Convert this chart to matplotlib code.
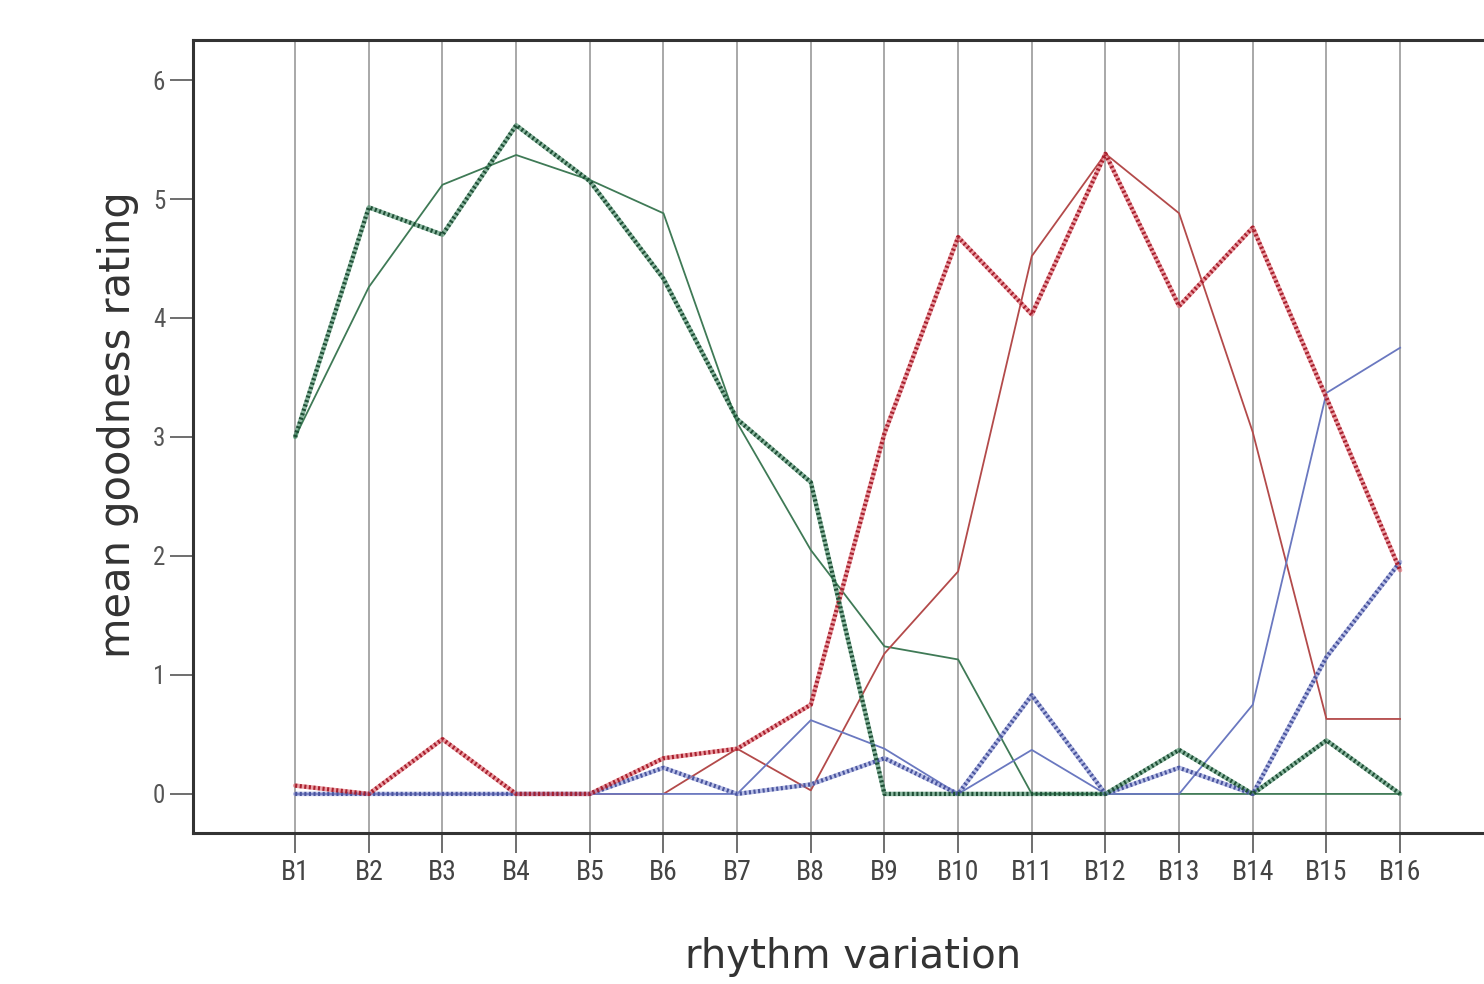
import matplotlib
matplotlib.use("Agg")

import matplotlib.pyplot as plt

VARIATIONS = [f"B{i}" for i in range(1, 17)]
Y_TICKS = [0, 1, 2, 3, 4, 5, 6]

# thick (beaded) series
GREEN_THICK = [3.0, 4.93, 4.70, 5.62, 5.15, 4.33, 3.15, 2.62, 0, 0, 0, 0, 0.37, 0, 0.45, 0]
RED_THICK = [0.07, 0, 0.46, 0, 0, 0.30, 0.38, 0.75, 3.03, 4.68, 4.03, 5.38, 4.10, 4.76, 3.33, 1.88]
BLUE_THICK = [0, 0, 0, 0, 0, 0.22, 0, 0.08, 0.30, 0, 0.83, 0, 0.22, 0, 1.15, 1.95]

# thin series
GREEN_THIN = [3.0, 4.26, 5.12, 5.37, 5.16, 4.88, 3.12, 2.05, 1.24, 1.13, 0, 0, 0, 0, 0, 0]
RED_THIN = [0, 0, 0, 0, 0, 0, 0.38, 0.03, 1.18, 1.87, 4.52, 5.38, 4.88, 3.04, 0.63, 0.63]
BLUE_THIN = [0, 0, 0, 0, 0, 0, 0, 0.62, 0.38, 0, 0.37, 0, 0, 0.75, 3.37, 3.75]

TICK_FONT = ["Roboto Condensed", "Liberation Sans Narrow", "Roboto", "DejaVu Sans"]


def beaded_line(ax, x, y, base, dots):
	ax.plot(x, y, color=base, linewidth=3.2, alpha=0.6, solid_capstyle="round", zorder=4)
	ax.plot(x, y, color=dots, linewidth=3.0, linestyle=(0, (0.5, 0.6)), zorder=5)


def main():
	fig = plt.figure(figsize=(14.84, 9.84), dpi=100)
	ax = fig.add_axes([0.130, 0.1535, 0.877, 0.8058])

	x = list(range(1, len(VARIATIONS) + 1))

	ax.plot(x, GREEN_THIN, color="#3f7a56", linewidth=1.3, zorder=3)
	ax.plot(x, RED_THIN, color="#b34a4a", linewidth=1.3, zorder=3)
	ax.plot(x, BLUE_THIN, color="#6a78c0", linewidth=1.3, zorder=3)

	beaded_line(ax, x, BLUE_THICK, "#8a94d6", "#4a559e")
	beaded_line(ax, x, RED_THICK, "#e0606a", "#a8202e")
	beaded_line(ax, x, GREEN_THICK, "#3f8a62", "#1f4f36")

	ax.set_xlim(1 - 1.388, 17.28)
	ax.set_ylim(-0.328, 6.336)

	ax.set_xticks(x)
	ax.set_xticklabels(VARIATIONS, family=TICK_FONT, fontsize=20, color="#444444")
	ax.set_yticks(Y_TICKS)
	ax.set_yticklabels([str(v) for v in Y_TICKS], family=TICK_FONT, fontsize=18, color="#555555")

	ax.tick_params(axis="x", direction="out", length=14.5, width=1.2, color="#555555", pad=4)
	ax.tick_params(axis="y", direction="out", length=16.5, width=1.2, color="#555555", pad=3.5)

	ax.grid(True, axis="x", color="#a8a8a8", linewidth=1.4, zorder=1)
	ax.set_axisbelow(True)

	for side in ["left", "top", "bottom", "right"]:
		ax.spines[side].set_linewidth(2.2)
		ax.spines[side].set_color("#333333")

	fig.text(0.0795, 0.568, "mean goodness rating", rotation=90, ha="center", va="center",
		fontsize=30, color="#333333")
	fig.text(0.575, 0.027, "rhythm variation", ha="center", va="center",
		fontsize=29, color="#333333")

	fig.savefig("out.png", dpi=100)
	plt.close(fig)
	return 0


if __name__ == "__main__":
	raise SystemExit(main())
